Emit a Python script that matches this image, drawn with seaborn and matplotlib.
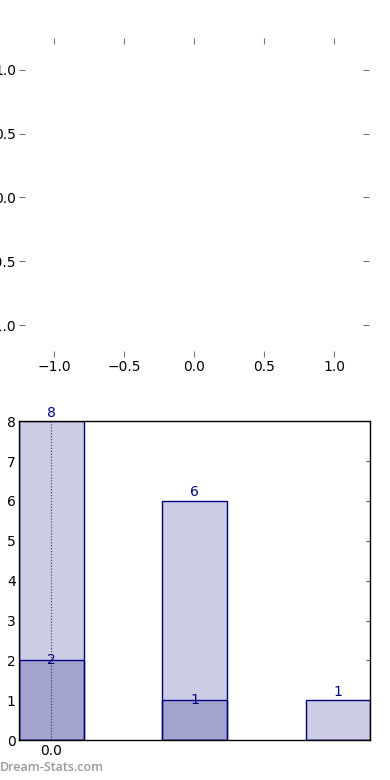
import numpy as np
import pandas as pd
import matplotlib
matplotlib.use('Agg')
import matplotlib.pyplot as plt
import seaborn as sns

sns.set_style('white')
plt.rcParams['font.family'] = ['DejaVu Sans']

# data
groups = ['0.0', '1.0', '2.0']
totals = [8, 6, 1]
subset = [2, 1, 0]
ref_ticks = [-1.0, -0.5, 0.0, 0.5, 1.0]

navy = '#000080'
bar_w = 0.45

fig = plt.figure(figsize=(3.9, 7.8), dpi=100)

# ---- top panel: empty axes, only tick marks ----
ax1 = fig.add_axes([0.0487, 0.5423, 0.8974, 0.409])
ax1.set_xlim(-1.25, 1.25)
ax1.set_ylim(-1.25, 1.25)
ax1.set_xticks(ref_ticks)
ax1.set_yticks(ref_ticks)
for s in ax1.spines.values():
    s.set_visible(False)
ax1.tick_params(direction='in', length=4, width=0.8, color='#777777',
                labelsize=10, labelcolor='black',
                top=True, right=True, bottom=True, left=True, pad=2)

# ---- bottom panel: overlapping bars ----
ax2 = fig.add_axes([0.049, 0.051, 0.900, 0.409])
df = pd.DataFrame({'group': groups, 'total': totals, 'subset': subset})
sns.barplot(data=df, x='group', y='total', order=groups, color=navy, alpha=0.2,
            saturation=1, width=bar_w, edgecolor=navy, linewidth=1, ax=ax2)
sns.barplot(data=df, x='group', y='subset', order=groups, color=navy, alpha=0.2,
            saturation=1, width=bar_w, edgecolor=navy, linewidth=1, ax=ax2)
# keep edges opaque
for p in ax2.patches:
    p.set_edgecolor(navy)
    fc = p.get_facecolor()
    p.set_facecolor((fc[0], fc[1], fc[2], 0.2))
    p.set_alpha(None)

for i, v in enumerate(totals):
    ax2.text(i, v + 0.04, str(v), ha='center', va='bottom', color=navy, fontsize=10)
for i, v in enumerate(subset):
    if v > 0:
        ax2.text(i, v - 0.17, str(v), ha='center', va='bottom', color=navy, fontsize=10)

ax2.set_xlim(-bar_w / 2, len(groups) - 1 + bar_w / 2)
ax2.set_ylim(0, 8)
ax2.set_xticks([0])
ax2.set_xticklabels(['0.0'])
ax2.set_yticks(range(0, 9))
ax2.set_xlabel('')
ax2.set_ylabel('')
ax2.xaxis.grid(True, linestyle=':', color='#444444', linewidth=0.8)
ax2.yaxis.grid(False)
for s in ax2.spines.values():
    s.set_visible(True)
    s.set_color('black')
    s.set_linewidth(1)
ax2.tick_params(axis='x', length=0, labelsize=10, labelcolor='black', pad=3)
ax2.tick_params(axis='y', direction='in', length=3, color='#555555',
                labelsize=10, labelcolor='black', pad=2.5, right=True)

fig.text(0.0, 0.0075, 'Dream-Stats.com', color='#9a9a9a', fontsize=9,
         family=['Open Sans', 'DejaVu Sans'], fontweight='semibold',
         ha='left', va='bottom')

fig.savefig('out.png', dpi=100)
